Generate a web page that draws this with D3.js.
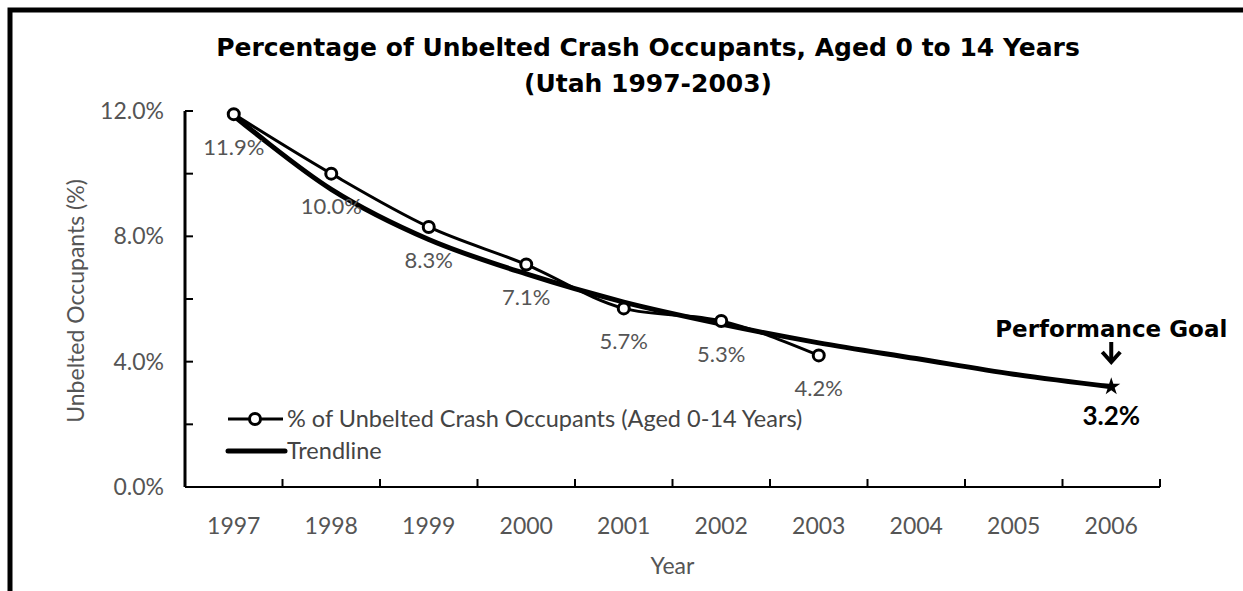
<!DOCTYPE html>
<html>
<head>
<meta charset="utf-8">
<script src="https://cdnjs.cloudflare.com/ajax/libs/d3/7.8.5/d3.min.js"></script>
<style>
  body { margin: 0; background: #fff; }
  svg { display: block; font-family: Lato, "Open Sans", sans-serif; }
  .tick-label { fill: #555; font-size: 23px; }
  .point-label { fill: #555; font-size: 22px; }
  .bold { font-family: "DejaVu Sans", sans-serif; font-weight: bold; fill: #000; }
</style>
</head>
<body>
<svg width="1243" height="591"></svg>
<script>
// data
const years = ["1997", "1998", "1999", "2000", "2001", "2002", "2003", "2004", "2005", "2006"];
const actualYears = ["1997", "1998", "1999", "2000", "2001", "2002", "2003"];
const actualValues = [11.9, 10.0, 8.3, 7.1, 5.7, 5.3, 4.2];
const trendValues = [11.85, 9.5, 7.9, 6.8, 5.9, 5.2, 4.6, 4.1, 3.6, 3.2];
const yTicks = [0, 2, 4, 6, 8, 10, 12];
const yLabels = [0, 4, 8, 12];
const goalValue = 3.2;

var svg = d3.select("svg"),
    width = +svg.attr("width"),
    height = +svg.attr("height");

// frame round the whole figure (runs off the picture on the right and bottom)
svg.append("rect")
    .attr("x", 10).attr("y", 10)
    .attr("width", 1400).attr("height", 800)
    .attr("fill", "none")
    .attr("stroke", "#000")
    .attr("stroke-width", 5);

const plotLeft = 185, plotRight = 1160, plotTop = 111, plotBottom = 487;

let x = d3.scaleBand().domain(years).range([plotLeft, plotRight]);
let y = d3.scaleLinear().domain([0, 12]).range([plotBottom, plotTop]);
let cx = function (yr) { return x(yr) + x.bandwidth() / 2; };

// title
let title = svg.append("text")
    .attr("class", "bold")
    .attr("text-anchor", "middle")
    .attr("font-size", 25);
title.append("tspan").attr("x", 648).attr("y", 56)
    .text("Percentage of Unbelted Crash Occupants, Aged 0 to 14 Years");
title.append("tspan").attr("x", 648).attr("y", 92)
    .text("(Utah 1997-2003)");

// y axis
svg.append("line")
    .attr("x1", plotLeft).attr("x2", plotLeft)
    .attr("y1", plotTop).attr("y2", plotBottom)
    .attr("stroke", "#000").attr("stroke-width", 3);
svg.selectAll(".ytick").data(yTicks).enter().append("line")
    .attr("x1", plotLeft).attr("x2", plotLeft + 8)
    .attr("y1", d => y(d)).attr("y2", d => y(d))
    .attr("stroke", "#000").attr("stroke-width", 2);
svg.selectAll(".ylab").data(yLabels).enter().append("text")
    .attr("class", "tick-label")
    .attr("text-anchor", "end")
    .attr("x", 164)
    .attr("y", d => y(d))
    .attr("dy", "0.35em")
    .text(d => d.toFixed(1) + "%");

svg.append("text")
    .attr("class", "tick-label")
    .attr("font-size", 23)
    .attr("text-anchor", "middle")
    .attr("transform", "translate(76,301) rotate(-90)")
    .attr("dy", "0.35em")
    .text("Unbelted Occupants (%)");

// x axis
svg.append("line")
    .attr("x1", plotLeft).attr("x2", plotRight)
    .attr("y1", plotBottom).attr("y2", plotBottom)
    .attr("stroke", "#000").attr("stroke-width", 2);
let xTickPos = years.slice(1).map(d => x(d)).concat([plotRight]);
svg.selectAll(".xtick").data(xTickPos).enter().append("line")
    .attr("x1", d => d).attr("x2", d => d)
    .attr("y1", plotBottom).attr("y2", plotBottom - 8)
    .attr("stroke", "#000").attr("stroke-width", 2);
svg.selectAll(".xlab").data(years).enter().append("text")
    .attr("class", "tick-label")
    .attr("text-anchor", "middle")
    .attr("x", d => cx(d))
    .attr("y", 526)
    .attr("dy", "0.35em")
    .text(d => d);
svg.append("text")
    .attr("class", "tick-label")
    .attr("font-size", 22)
    .attr("text-anchor", "middle")
    .attr("x", (plotLeft + plotRight) / 2).attr("y", 566)
    .attr("dy", "0.35em")
    .text("Year");

// trendline
let trendLine = d3.line().curve(d3.curveCatmullRom);
svg.append("path")
    .attr("d", trendLine(years.map((d, i) => [cx(d), y(trendValues[i])])))
    .attr("fill", "none")
    .attr("stroke", "#000")
    .attr("stroke-width", 5);

// actual series
let dataLine = d3.line().curve(d3.curveMonotoneX);
svg.append("path")
    .attr("d", dataLine(actualYears.map((d, i) => [cx(d), y(actualValues[i])])))
    .attr("fill", "none")
    .attr("stroke", "#000")
    .attr("stroke-width", 3);
svg.selectAll(".pt").data(actualValues).enter().append("circle")
    .attr("cx", (d, i) => cx(actualYears[i]))
    .attr("cy", d => y(d))
    .attr("r", 5.5)
    .attr("fill", "#fff")
    .attr("stroke", "#000")
    .attr("stroke-width", 3);
svg.selectAll(".plab").data(actualValues).enter().append("text")
    .attr("class", "point-label")
    .attr("text-anchor", "middle")
    .attr("x", (d, i) => cx(actualYears[i]))
    .attr("y", d => y(d) + 33)
    .attr("dy", "0.35em")
    .text(d => d.toFixed(1) + "%");

// performance goal
let gx = cx("2006"), gy = y(goalValue);
svg.append("path")
    .attr("transform", "translate(" + gx + "," + gy + ")")
    .attr("d", d3.symbol(d3.symbolStar).size(100)())
    .attr("fill", "#000");
svg.append("text")
    .attr("class", "bold")
    .attr("x", gx).attr("y", 337)
    .attr("text-anchor", "middle")
    .attr("font-size", 23)
    .text("Performance Goal");
svg.append("line")
    .attr("x1", gx).attr("x2", gx)
    .attr("y1", 342).attr("y2", 362)
    .attr("stroke", "#000").attr("stroke-width", 4);
svg.append("path")
    .attr("d", "M" + (gx - 9) + ",352 L" + gx + ",362 L" + (gx + 9) + ",352")
    .attr("fill", "none")
    .attr("stroke", "#000").attr("stroke-width", 4);
svg.append("text")
    .attr("x", gx).attr("y", 425)
    .attr("text-anchor", "middle")
    .attr("font-size", 26).attr("font-weight", 700)
    .attr("fill", "#000")
    .text(goalValue.toFixed(1) + "%");

// legend
let legend = svg.append("g");
legend.append("line")
    .attr("x1", 228).attr("x2", 283).attr("y1", 419).attr("y2", 419)
    .attr("stroke", "#000").attr("stroke-width", 3);
legend.append("circle")
    .attr("cx", 255).attr("cy", 419).attr("r", 5.5)
    .attr("fill", "#fff").attr("stroke", "#000").attr("stroke-width", 3);
legend.append("text")
    .attr("x", 287).attr("y", 419).attr("dy", "0.35em")
    .attr("font-size", 23.5).attr("fill", "#444")
    .text("% of Unbelted Crash Occupants (Aged 0-14 Years)");
legend.append("line")
    .attr("x1", 228).attr("x2", 285).attr("y1", 451).attr("y2", 451)
    .attr("stroke", "#000").attr("stroke-width", 5).attr("stroke-linecap", "round");
legend.append("text")
    .attr("x", 287).attr("y", 451).attr("dy", "0.35em")
    .attr("font-size", 23.5).attr("fill", "#444")
    .text("Trendline");
</script>
</body>
</html>
